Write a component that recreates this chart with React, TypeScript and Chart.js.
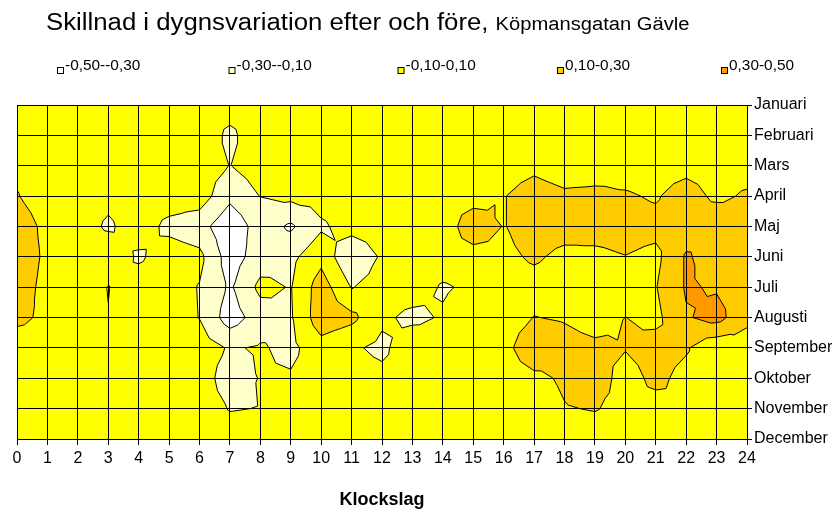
import React, { useEffect, useRef } from "react";
import { Chart, registerables } from "chart.js";

Chart.register(...registerables);

const FONT = "'Liberation Sans', Arial, Helvetica, sans-serif";

const monthLabels = [
  "Januari", "Februari", "Mars", "April", "Maj", "Juni",
  "Juli", "Augusti", "September", "Oktober", "November", "December",
];

const bandLimits = [-0.5, -0.3, -0.1, 0.1, 0.3, 0.5];
const bandColors = ["#FFFFFF", "#FFFFCC", "#FFFF00", "#FFCC00", "#FF9900"];
const bandLabels = ["-0,50--0,30", "-0,30--0,10", "-0,10-0,10", "0,10-0,30", "0,30-0,50"];

const titleMain = "Skillnad i dygnsvariation efter och före, ";
const titleSub = "Köpmansgatan Gävle";
const xTitle = "Klockslag";

// values per month, hours 0..24
const janValues = [0, 0, 0, 0, 0, 0, 0, 0, 0, 0, 0, 0, 0, 0, 0, 0, 0, 0, 0, 0, 0, 0, 0, 0, 0];
const febValues = [0, 0, 0, 0, 0, 0, 0.05, -0.15, 0.05, 0, 0, 0, 0, 0, 0, 0, 0, 0, 0, 0, 0, 0, 0, 0, 0];
const marValues = [0.06, 0, 0, 0, 0, 0, 0, -0.105, 0, 0, 0, 0, 0, 0, 0, 0, 0, 0.05, -0.02, 0, 0.02, 0, 0.03, 0, 0];
const aprValues = [0.11, 0, 0, -0.05, 0, 0, 0, -0.25, -0.095, -0.05, -0.02, 0, 0, 0, 0, 0, 0.09, 0.2, 0.14, 0.15, 0.12, 0.08, 0.2, 0.05, 0.13];
const majValues = [0.2, 0.05, 0, -0.13, 0, -0.15, -0.22, -0.45, -0.2, -0.33, -0.13, -0.02, 0, 0, -0.04, 0.25, 0.09, 0.2, 0.18, 0.17, 0.18, 0.16, 0.2, 0.29, 0.2];
const junValues = [0.2, 0.067, 0, 0.05, -0.13, 0, -0.05, -0.4, -0.2, -0.15, 0.04, -0.28, -0.07, 0, 0.005, 0, 0.05, 0.13, 0.05, 0.06, 0.095, 0.05, 0.32, 0.22, 0.22];
const julValues = [0.18, 0.05, 0, -0.105, 0, 0, -0.11, -0.33, -0.05, -0.11, 0.2, -0.11, 0, 0, -0.12, -0.066, 0, 0.02, 0, 0, 0, 0.09, 0.32, 0.28, 0.2];
const augValues = [0.15, 0.054, 0, -0.095, 0, 0, -0.105, -0.4, -0.2, -0.12, 0.22, 0.15, -0.06, -0.15, -0.08, 0, 0, 0.105, 0.08, 0, 0.102, 0.05, 0.28, 0.37, 0.15];
const sepValues = [-0.017, 0, 0, 0, 0, 0, 0, -0.12, -0.08, -0.15, 0.02, -0.067, -0.15, 0.05, 0, 0, 0.03, 0.25, 0.185, 0.15, 0.11, 0.18, 0.12, -0.05, 0];
const oktValues = [0, 0, 0, 0, 0, 0, 0, -0.2, -0.09, -0.079, 0, 0, -0.039, 0, 0, 0, 0, 0.05, 0.13, 0.2, 0.02, 0.15, 0.04, 0, 0];
const novValues = [0, 0, 0, 0, 0, 0, 0, -0.11, -0.095, 0, 0, 0, 0, 0, 0, 0, 0, 0, 0.09, 0.11, 0.05, 0.02, 0.095, 0, 0];
const decValues = [0, 0, 0, 0, 0, 0, 0, 0, 0, 0, 0, 0, 0, 0, 0, 0, 0, 0, 0, 0, 0, 0, 0, 0, 0];

const valueRows = [
  janValues, febValues, marValues, aprValues, majValues, junValues,
  julValues, augValues, sepValues, oktValues, novValues, decValues,
];

type P = { x: number; y: number; v: number };

function lerp(p: P, q: P, t: number): P {
  return { x: p.x + t * (q.x - p.x), y: p.y + t * (q.y - p.y), v: p.v + t * (q.v - p.v) };
}

function clipPoly(poly: P[], f: (p: P) => number): P[] {
  const out: P[] = [];
  const n = poly.length;
  for (let i = 0; i < n; i++) {
    const cur = poly[i];
    const prev = poly[(i + n - 1) % n];
    const fc = f(cur);
    const fp = f(prev);
    if (fc >= 0) {
      if (fp < 0) out.push(lerp(prev, cur, fp / (fp - fc)));
      out.push(cur);
    } else if (fp >= 0) {
      out.push(lerp(prev, cur, fp / (fp - fc)));
    }
  }
  return out;
}

function buildTriangles(): P[][] {
  const tris: P[][] = [];
  for (let m = 0; m < valueRows.length - 1; m++) {
    for (let h = 0; h < valueRows[m].length - 1; h++) {
      const a = { x: h, y: m, v: valueRows[m][h] };
      const b = { x: h + 1, y: m, v: valueRows[m][h + 1] };
      const c = { x: h + 1, y: m + 1, v: valueRows[m + 1][h + 1] };
      const d = { x: h, y: m + 1, v: valueRows[m + 1][h] };
      const e = { x: h + 0.5, y: m + 0.5, v: (a.v + b.v + c.v + d.v) / 4 };
      tris.push([a, b, e], [b, c, e], [c, d, e], [d, a, e]);
    }
  }
  return tris;
}

const contourPlugin = {
  id: "contourSurface",
  beforeDraw(chart: any) {
    const { ctx, chartArea: ca, scales } = chart;
    const xs = scales.x;
    const ys = scales.y;
    const tris = buildTriangles();
    const px = (p: P) => [xs.getPixelForValue(p.x), ys.getPixelForValue(p.y)];
    ctx.save();
    ctx.beginPath();
    ctx.rect(ca.left, ca.top, ca.right - ca.left, ca.bottom - ca.top);
    ctx.clip();
    for (let k = 0; k < bandColors.length; k++) {
      const lo = k === 0 ? -Infinity : bandLimits[k];
      const hi = k === bandColors.length - 1 ? Infinity : bandLimits[k + 1];
      ctx.beginPath();
      for (const t of tris) {
        let poly = clipPoly(t, (p) => p.v - lo);
        if (poly.length < 3) continue;
        poly = clipPoly(poly, (p) => hi - p.v);
        if (poly.length < 3) continue;
        poly.forEach((p, i) => {
          const [X, Y] = px(p);
          if (i === 0) ctx.moveTo(X, Y);
          else ctx.lineTo(X, Y);
        });
        ctx.closePath();
      }
      ctx.fillStyle = bandColors[k];
      ctx.fill();
    }
    // contour lines
    ctx.beginPath();
    for (const L of bandLimits.slice(1, -1)) {
      for (const t of tris) {
        const pts: P[] = [];
        for (let i = 0; i < 3; i++) {
          const p = t[i];
          const q = t[(i + 1) % 3];
          const a = p.v - L;
          const b = q.v - L;
          if ((a >= 0) !== (b >= 0)) pts.push(lerp(p, q, a / (a - b)));
        }
        if (pts.length === 2) {
          const [x1, y1] = px(pts[0]);
          const [x2, y2] = px(pts[1]);
          ctx.moveTo(x1, y1);
          ctx.lineTo(x2, y2);
        }
      }
    }
    ctx.strokeStyle = "#000";
    ctx.lineWidth = 1;
    ctx.lineJoin = "round";
    ctx.stroke();
    ctx.restore();
  },
};

function drawStretched(ctx: CanvasRenderingContext2D, text: string, x: number, y: number, font: string, sx: number) {
  ctx.save();
  ctx.font = font;
  ctx.textAlign = "left";
  ctx.textBaseline = "alphabetic";
  ctx.fillStyle = "#000";
  ctx.translate(x, y);
  ctx.scale(sx, 1);
  ctx.fillText(text, 0, 0);
  const w = ctx.measureText(text).width * sx;
  ctx.restore();
  return w;
}

const legendX = [57, 228.5, 397.5, 557, 721];

const headerPlugin = {
  id: "headerAndLegend",
  afterDraw(chart: any) {
    const ctx: CanvasRenderingContext2D = chart.ctx;
    const w = drawStretched(ctx, titleMain, 46, 30, `23px ${FONT}`, 1.12);
    drawStretched(ctx, titleSub, 46 + w, 30, `18px ${FONT}`, 1.12);
    bandLabels.forEach((lab, i) => {
      const x = legendX[i];
      ctx.save();
      ctx.fillStyle = bandColors[i];
      ctx.fillRect(x, 67, 7, 7);
      ctx.strokeStyle = "#000";
      ctx.lineWidth = 1;
      ctx.strokeRect(x + 0.5, 67.5, 6, 6);
      ctx.restore();
      drawStretched(ctx, lab, x + 8, 70, `14px ${FONT}`, 1.1);
    });
  },
};

export default function App() {
  const ref = useRef<HTMLCanvasElement | null>(null);
  useEffect(() => {
    if (!ref.current) return;
    const chart = new Chart(ref.current, {
      type: "scatter",
      data: { datasets: [{ data: [] }] },
      options: {
        responsive: false,
        animation: false,
        events: [],
        layout: { padding: { left: 17, top: 105, right: 0, bottom: 0 } },
        plugins: { legend: { display: false }, tooltip: { enabled: false }, title: { display: false } },
        scales: {
          x: {
            type: "linear",
            position: "bottom",
            min: 0,
            max: 24,
            afterFit: (s: any) => { s.height = 76; },
            ticks: { stepSize: 1, autoSkip: false, maxRotation: 0, color: "#000", font: { family: FONT, size: 16 }, padding: 4 },
            grid: { color: "#000", lineWidth: 1, tickLength: 6 },
            border: { color: "#000", width: 1 },
            title: { display: true, text: xTitle, color: "#000", font: { family: FONT, size: 18, weight: "bold" }, padding: { top: 0, bottom: 4 } },
          },
          y: {
            type: "linear",
            position: "right",
            min: 0,
            max: 11,
            reverse: true,
            afterFit: (s: any) => { s.width = 88; },
            ticks: { stepSize: 1, autoSkip: false, color: "#000", font: { family: FONT, size: 16 }, padding: 2, callback: (v: any) => monthLabels[v] ?? "" },
            grid: { color: "#000", lineWidth: 1, tickLength: 5 },
            border: { color: "#000", width: 1 },
          },
        },
      } as any,
      plugins: [contourPlugin, headerPlugin],
    });
    return () => chart.destroy();
  }, []);
  return (
    <div style={{ position: "fixed", left: 0, top: 0, width: 835, height: 515, background: "#fff" }}>
      <canvas ref={ref} width={835} height={515} style={{ display: "block" }} />
    </div>
  );
}
